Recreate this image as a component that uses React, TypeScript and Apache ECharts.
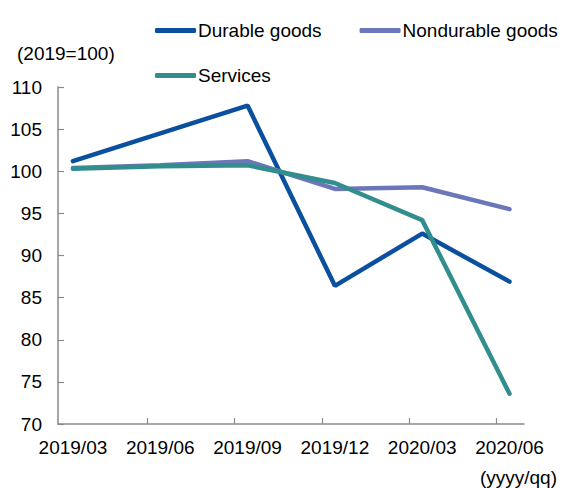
import React, { useEffect, useRef } from "react";
import * as echarts from "echarts";

const categories = ["2019/03", "2019/06", "2019/09", "2019/12", "2020/03", "2020/06"];
const durable = [101.2, 104.5, 107.8, 86.4, 92.6, 86.9];
const nondurable = [100.4, 100.7, 101.2, 97.9, 98.1, 95.5];
const services = [100.3, 100.6, 100.7, 98.6, 94.2, 73.6];
const yTicks = { min: 70, max: 110, interval: 5 };

const FONT = '"Liberation Sans", Arial, sans-serif';
const FS = 19;

export default function App() {
  const ref = useRef<HTMLDivElement>(null);
  useEffect(() => {
    document.body.style.margin = "0";
    if (!ref.current) return;
    const chart = echarts.init(ref.current, undefined, { renderer: "svg" });
    const toPairs = (arr: number[]) => arr.map((v, i) => [i, v]);
    const tickPositions = categories.slice(1).map((_, i) => i + 0.85);
    const labelPositions = categories.map((_, i) => i);
    chart.setOption({
      animation: false,
      textStyle: { fontFamily: FONT },
      grid: { left: 58, right: 39, top: 87, bottom: 64, containLabel: false },
      legend: [
        {
          data: ["Durable goods", "Nondurable goods"],
          left: 150,
          top: 16,
          itemGap: 38,
          itemWidth: 41,
          itemHeight: 5,
          icon: "roundRect",
          selectedMode: false,
          textStyle: { fontSize: FS, color: "#000", fontFamily: FONT, padding: [0, 0, 0, -3] },
        },
        {
          data: ["Services"],
          left: 150,
          top: 61,
          itemWidth: 41,
          itemHeight: 5,
          icon: "roundRect",
          selectedMode: false,
          textStyle: { fontSize: FS, color: "#000", fontFamily: FONT, padding: [0, 0, 0, -3] },
        },
      ],
      xAxis: {
        type: "value",
        min: -0.171,
        max: 5.166,
        splitLine: { show: false },
        axisLine: { show: true, onZero: false, lineStyle: { color: "#8a8a8a", width: 1.5 } },
        axisTick: {
          show: true,
          inside: true,
          length: 6,
          customValues: tickPositions,
          lineStyle: { color: "#8a8a8a", width: 1.2 },
        },
        axisLabel: {
          customValues: labelPositions,
          formatter: (v: number) => categories[Math.round(v)] ?? "",
          fontSize: FS,
          color: "#000",
          fontFamily: FONT,
          margin: 14,
        },
      },
      yAxis: {
        type: "value",
        min: yTicks.min,
        max: yTicks.max,
        interval: yTicks.interval,
        splitLine: { show: false },
        axisLine: { show: true, onZero: false, lineStyle: { color: "#8a8a8a", width: 1.5 } },
        axisTick: { show: true, inside: true, length: 6, lineStyle: { color: "#8a8a8a", width: 1.2 } },
        axisLabel: { fontSize: FS, color: "#000", fontFamily: FONT, margin: 16 },
      },
      graphic: [
        {
          type: "text",
          left: 17,
          top: 44,
          style: { text: "(2019=100)", fontSize: FS, fill: "#000", fontFamily: FONT },
        },
        {
          type: "text",
          right: 6,
          top: 468,
          style: { text: "(yyyy/qq)", fontSize: FS, fill: "#000", fontFamily: FONT },
        },
      ],
      series: [
        {
          name: "Durable goods",
          type: "line",
          data: toPairs(durable),
          symbol: "none",
          itemStyle: { color: "#0b4f9f" },
          lineStyle: { color: "#0b4f9f", width: 4.5, cap: "round" },
        },
        {
          name: "Nondurable goods",
          type: "line",
          data: toPairs(nondurable),
          symbol: "none",
          itemStyle: { color: "#6b77b8" },
          lineStyle: { color: "#6b77b8", width: 4.5, cap: "round" },
        },
        {
          name: "Services",
          type: "line",
          data: toPairs(services),
          symbol: "none",
          itemStyle: { color: "#318e8d" },
          lineStyle: { color: "#318e8d", width: 4.5, cap: "round" },
        },
      ],
    });
    return () => chart.dispose();
  }, []);
  return <div ref={ref} style={{ width: 563, height: 488 }} />;
}
